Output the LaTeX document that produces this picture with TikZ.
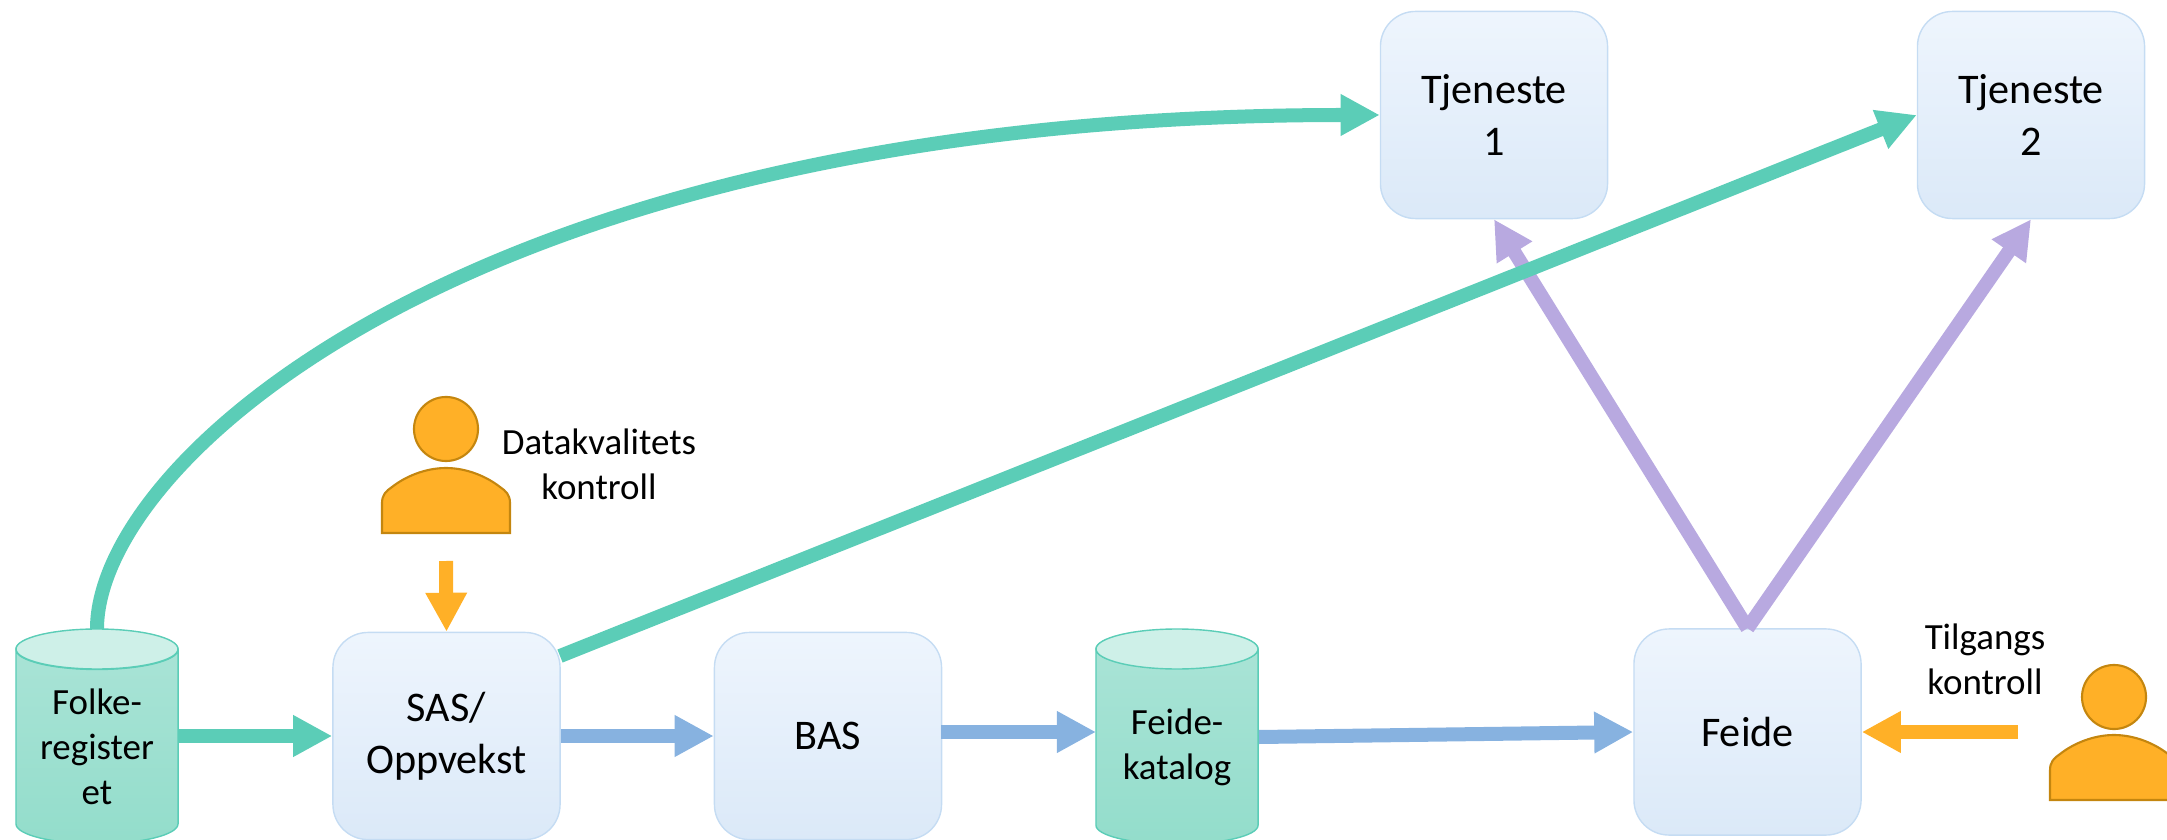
\documentclass[tikz,border=0pt]{standalone}
\usepackage{fontspec}
\setmainfont{Carlito}
\usetikzlibrary{arrows.meta,shapes.geometric}

\definecolor{boxtop}{HTML}{EEF5FD}
\definecolor{boxbottom}{HTML}{DBE9F8}
\definecolor{boxline}{HTML}{C5DCF3}
\definecolor{tealarrow}{HTML}{5BCDB7}
\definecolor{tealtop}{HTML}{ABE4D7}
\definecolor{tealbottom}{HTML}{93DDCB}
\definecolor{tealcap}{HTML}{CEF0E8}
\definecolor{bluearrow}{HTML}{87B2E0}
\definecolor{purplearrow}{HTML}{B8A9E0}
\definecolor{orangefill}{HTML}{FFB027}
\definecolor{orangeline}{HTML}{C4860F}

\tikzset{
  bigtext/.style={font=\fontsize{12}{14.8}\selectfont,align=center},
  smalltext/.style={font=\fontsize{10.5}{12.8}\selectfont,align=center},
  tjeneste/.style={rectangle,rounded corners=0.35cm,draw=boxline,top color=boxtop,bottom color=boxbottom,
    minimum width=2.27cm,minimum height=2.07cm,inner sep=0pt,bigtext},
  katalog/.style={cylinder,shape border rotate=90,aspect=0.35,draw=tealarrow,top color=tealtop,bottom color=tealbottom,
    minimum width=1.62cm,minimum height=2.14cm,inner sep=0pt,smalltext},
  katalogcap/.style={draw=tealarrow,fill=tealcap},
  flow/.style={line width=0.14cm,-{Triangle[length=0.39cm,width=0.39cm]}},
  persona/.style={draw=orangeline,fill=orangefill,line width=0.6pt},
  personbody/.pic={
    \draw[persona] (-64,0) -- (-64,-30) .. controls (-64,-38) and (-60,-42) .. (-54,-46)
      .. controls (-40,-57) and (-20,-65) .. (0,-65)
      .. controls (20,-65) and (40,-57) .. (54,-46)
      .. controls (60,-42) and (64,-38) .. (64,-30) -- (64,0) -- cycle;
  }
}

\begin{document}
\begin{tikzpicture}[x=0.01cm,y=-0.01cm]
  \useasboundingbox (0,0) rectangle (2167,840);

  % boxes
  \node[tjeneste] (tj1) at (1494,115) {Tjeneste\\1};
  \node[tjeneste] (tj2) at (2031,115) {Tjeneste\\2};
  \node[tjeneste] (sas) at (446.5,736) {SAS/\\Oppvekst};
  \node[tjeneste] (bas) at (828,736) {BAS};
  \node[tjeneste,minimum height=2.06cm] (feide) at (1747.5,732) {Feide};

  % databases
  \node[katalog] (folke) at (97,747) {Folke-\\register\\et};
  \filldraw[katalogcap] (97,649) ellipse (81 and 20);
  \node[katalog] (fkat) at (1177,747) {Feide-\\katalog};
  \filldraw[katalogcap] (1177,649) ellipse (81 and 20);

  % persons
  \node[circle,persona,minimum size=0.64cm,inner sep=0pt] (kvhead) at (446,429) {};
  \pic at (446,533) {personbody};
  \node[circle,persona,minimum size=0.64cm,inner sep=0pt] (tghead) at (2114,697) {};
  \pic at (2114,800) {personbody};
  \coordinate (kvfoot) at (446,561);
  \coordinate (tgfoot) at (2018,732);
  \coordinate (sasout) at (560,656);
  \coordinate (basout) at (941,732);
  \coordinate (fkatin) at (1096,732);
  \coordinate (fkatout) at (1259,737);

  \node[smalltext] (kvlabel) at (599,464) {Datakvalitets\\kontroll};
  \node[smalltext] (tglabel) at (1985,659) {Tilgangs\\kontroll};

  % arrows
  \draw[flow,purplearrow] (feide.north) -- (tj1.south);
  \draw[flow,purplearrow] (feide.north) -- (tj2.south);
  \draw[flow,tealarrow] (folke.north) .. controls +(0,-170) and +(-900,0) .. (tj1.west);
  \draw[flow,tealarrow] (sasout) -- (tj2.west);
  \draw[flow,tealarrow] (folke.east |- sas.west) -- (sas.west);
  \draw[flow,bluearrow] (sas.east) -- (bas.west);
  \draw[flow,bluearrow] (basout) -- (fkatin);
  \draw[flow,bluearrow] (fkatout) -- (feide.west);
  \draw[flow,orangefill] (kvfoot) -- (sas.north);
  \draw[flow,orangefill] (tgfoot) -- (feide.east);
\end{tikzpicture}
\end{document}
